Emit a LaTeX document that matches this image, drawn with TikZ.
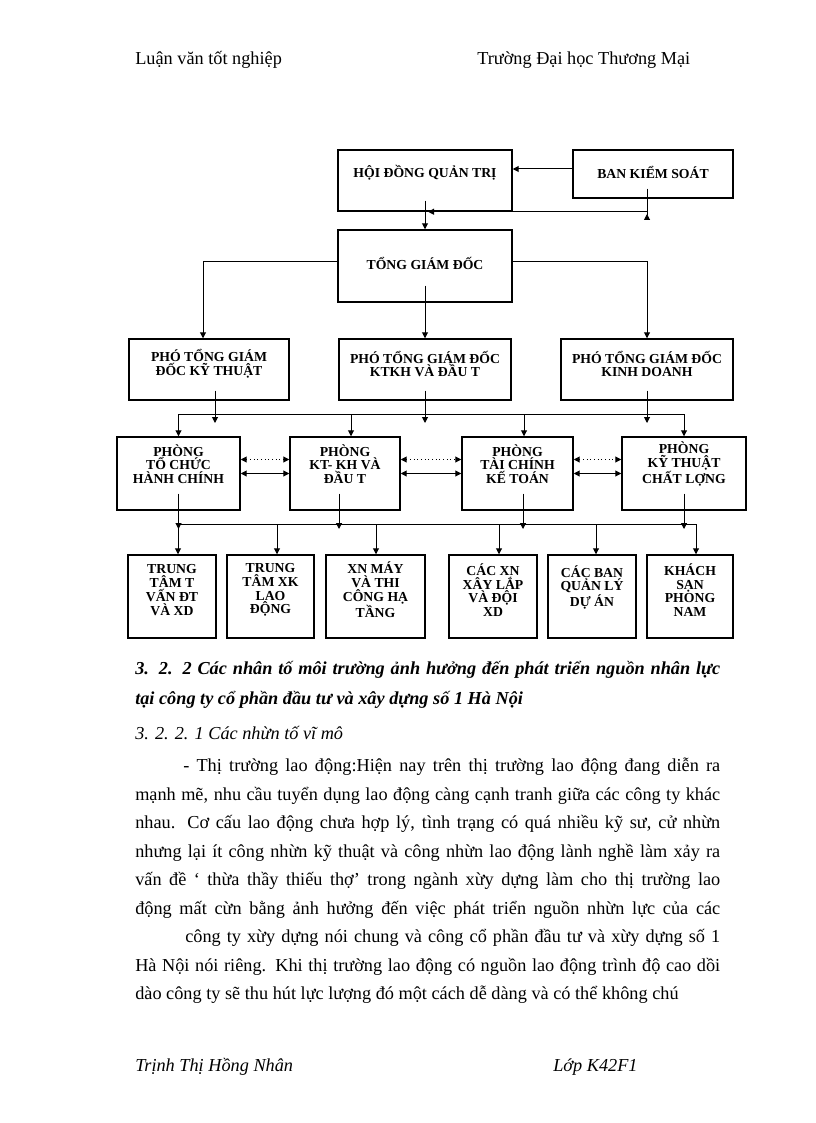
\documentclass[tikz,border=0pt]{standalone}
\usepackage{fontspec}
\setmainfont{Liberation Serif}
\usetikzlibrary{arrows.meta,calc}

\tikzset{
  box/.style={draw, line width=1.1pt, inner sep=0pt},
  boxtext/.style={font=\fontsize{10.3}{10.3}\selectfont\bfseries, align=center, inner sep=0pt},
  line/.style={line width=0.75pt},
  arr/.style={line width=0.75pt, -{Triangle[length=4.5pt,width=4.5pt]}},
  dbl/.style={line width=0.75pt, {Triangle[length=4.5pt,width=4.5pt]}-{Triangle[length=4.5pt,width=4.5pt]}},
  page/.style={font=\fontsize{13.7}{16}\selectfont, inner sep=0pt, anchor=west},
}

\begin{document}
\begin{tikzpicture}[x=0.75pt, y=-0.75pt]
\useasboundingbox (0,0) rectangle (816,1123);

% header
\node[page] (hleft) at (135,60) {Luận văn tốt nghiệp};
\node[page] (hright) at (477,60) {Trường Đại học Thương Mại};

% top level
\node[box, minimum width=130.5pt, minimum height=45.75pt] (hdqt) at (425,180.5) {};
\node[boxtext] (hdqt-t) at (425,173) {HỘI ĐỒNG QUẢN TRỊ};
\node[box, minimum width=120pt, minimum height=36pt] (bks) at (653,174) {};
\node[boxtext] (bks-t) at (653,172) {BAN KIỂM SOÁT};
\node[box, minimum width=130.5pt, minimum height=54pt] (tgd) at (425,266) {};
\node[boxtext] (tgd-t) at (425,263) {TỔNG GIÁM ĐỐC};

% pho tong giam doc
\node[box, minimum width=120pt, minimum height=45.75pt] (ptkt) at (209,369.5) {};
\node[boxtext] (ptkt-t) at (209,364) {PHÓ TỔNG GIÁM\\ĐỐC KỸ THUẬT};
\node[box, minimum width=129pt, minimum height=45.75pt] (ptkh) at (425,369.5) {};
\node[boxtext] (ptkh-t) at (425,364) {PHÓ TỔNG GIÁM ĐỐC\\KTKH VÀ ĐẦU T};
\node[box, minimum width=129pt, minimum height=45.75pt] (ptkd) at (647,369.5) {};
\node[boxtext] (ptkd-t) at (647,364) {PHÓ TỔNG GIÁM ĐỐC\\KINH DOANH};

% phong ban
\node[box, minimum width=92.25pt, minimum height=54.75pt] (tchc) at (178.5,473.5) {};
\node[boxtext] (tchc-t) at (178.5,464) {PHÒNG\\TỔ CHỨC\\HÀNH CHÍNH};
\node[box, minimum width=82.5pt, minimum height=54.75pt] (ktkh) at (345,473.5) {};
\node[boxtext] (ktkh-t) at (345,464) {PHÒNG\\KT- KH VÀ\\ĐẦU T};
\node[box, minimum width=83.25pt, minimum height=54.75pt] (tckt) at (517.5,473.5) {};
\node[boxtext] (tckt-t) at (517.5,464) {PHÒNG\\TÀI CHÍNH\\KẾ TOÁN};
\node[box, minimum width=93pt, minimum height=54.75pt] (ktcl) at (684,473.5) {};
\node[boxtext] (ktcl-t) at (684,464) {PHÒNG\\KỸ THUẬT\\CHẤT LỢNG};

% don vi
\node[box, minimum width=66pt, minimum height=62.25pt] (tttv) at (172,596.5) {};
\node[boxtext] (tttv-t) at (172,590) {TRUNG\\TÂM T\\VẤN ĐT\\VÀ XD};
\node[box, minimum width=65.25pt, minimum height=62.25pt] (ttxk) at (270.5,596.5) {};
\node[boxtext] (ttxk-t) at (270.5,590) {TRUNG\\TÂM XK\\LAO\\ĐỘNG};
\node[box, minimum width=74.25pt, minimum height=62.25pt] (xnmay) at (375.5,596.5) {};
\node[boxtext] (xnmay-t) at (375.5,590) {XN MÁY\\VÀ THI\\CÔNG HẠ\\TẦNG};
\node[box, minimum width=66pt, minimum height=62.25pt] (cacxn) at (493,596.5) {};
\node[boxtext] (cacxn-t) at (493,590) {CÁC XN\\XÂY LẮP\\VÀ ĐỘI\\XD};
\node[box, minimum width=66pt, minimum height=62.25pt] (cacban) at (592,596.5) {};
\node[boxtext] (cacban-t) at (592,587) {CÁC BAN\\QUẢN LÝ\\DỰ ÁN};
\node[box, minimum width=64.5pt, minimum height=62.25pt] (ks) at (690,596.5) {};
\node[boxtext] (ks-t) at (690,590) {KHÁCH\\SẠN\\PHONG\\NAM};

% top connectors
\coordinate (bkslow) at (647,220);
\draw[arr] ($(bks.west)+(0,-5)$) -- ($(hdqt.east)+(0,-11.5)$);
\draw[line, -{Triangle[length=4.5pt,width=4.5pt,reversed]}] ($(bks.south)+(-6,-10)$) -- (bkslow);
\draw[arr] (hdqt.south -| bkslow) -- ($(hdqt.south)+(3,0)$);
\draw[arr] ($(hdqt.south)+(0,-11)$) -- (tgd.north);
\draw[arr] ($(tgd.west)+(0,-5)$) -| ($(ptkt.north)+(-6,0)$);
\draw[arr] ($(tgd.east)+(0,-5)$) -| (ptkd.north);
\draw[arr] ($(tgd.south)+(0,-17)$) -- (ptkh.north);

% bus to phong ban
\coordinate (bus1l) at (178.5,414);
\coordinate (bus1r) at (684,414);
\draw[line] (bus1l) -- (bus1r);
\draw[arr] ($(ptkt.south)+(6,-10)$) -- ($(ptkt.south |- bus1l)+(6,9)$);
\draw[arr] ($(ptkh.south)+(0,-10)$) -- ($(ptkh.south |- bus1l)+(0,9)$);
\draw[arr] ($(ptkd.south)+(0,-10)$) -- ($(ptkd.south |- bus1l)+(0,9)$);
\draw[arr] (bus1l) -- (tchc.north);
\draw[arr] ($(ktkh.north |- bus1l)+(6,0)$) -- ($(ktkh.north)+(6,0)$);
\draw[arr] ($(tckt.north |- bus1l)+(6.5,0)$) -- ($(tckt.north)+(6.5,0)$);
\draw[arr] (bus1r) -- (ktcl.north);

% links between phong ban
\draw[dbl, dotted] ($(tchc.east)+(0,-14)$) -- ($(ktkh.west)+(0,-14)$);
\draw[dbl] (tchc.east) -- (ktkh.west);
\draw[dbl, dotted] ($(ktkh.east)+(0,-14)$) -- ($(tckt.west)+(0,-14)$);
\draw[dbl] (ktkh.east) -- (tckt.west);
\draw[dbl, dotted] ($(tckt.east)+(0,-14)$) -- ($(ktcl.west)+(0,-14)$);
\draw[dbl] (tckt.east) -- (ktcl.west);

% bus to don vi
\coordinate (bus2l) at (178,524);
\coordinate (bus2r) at (696,524);
\draw[line] (bus2l) -- (bus2r);
\draw[arr] ($(tchc.south)+(0,-17)$) -- ($(tchc.south |- bus2l)+(0,5)$);
\draw[arr] ($(ktkh.south)+(-6,-17)$) -- ($(ktkh.south |- bus2l)+(-6,5)$);
\draw[arr] ($(tckt.south)+(5.5,-17)$) -- ($(tckt.south |- bus2l)+(5.5,5)$);
\draw[arr] ($(ktcl.south)+(0,-17)$) -- ($(ktcl.south |- bus2l)+(0,5)$);
\draw[arr] (bus2l) -- ($(tttv.north)+(6,0)$);
\draw[arr] ($(ttxk.north |- bus2l)+(6.5,0)$) -- ($(ttxk.north)+(6.5,0)$);
\draw[arr] ($(xnmay.north |- bus2l)+(0.5,0)$) -- ($(xnmay.north)+(0.5,0)$);
\draw[arr] ($(cacxn.north |- bus2l)+(6,0)$) -- ($(cacxn.north)+(6,0)$);
\draw[arr] ($(cacban.north |- bus2l)+(4,0)$) -- ($(cacban.north)+(4,0)$);
\draw[arr] (bus2r) -- ($(ks.north)+(6,0)$);

% text below
\node[page, font=\fontsize{13.7}{16}\selectfont\bfseries\itshape] (head1) at (135,670)
  {\makebox[438.75pt][s]{3. 2. 2 Các nhân tố môi trường ảnh hưởng đến phát triển nguồn nhân lực}};
\node[page, font=\fontsize{13.7}{16}\selectfont\bfseries\itshape] (head2) at (135,700)
  {tại công ty cổ phần đầu tư và xây dựng số 1 Hà Nội};
\node[page, font=\fontsize{13.7}{16}\selectfont\itshape] (sub) at (135,733) {3. 2. 2. 1 Các nhừn tố vĩ mô};

\node[page] (l1) at (183,767) {\makebox[402.75pt][s]{- Thị trường lao động:Hiện nay trên thị trường lao động đang diễn ra}};
\node[page] (l2) at (135,795.5) {\makebox[438.75pt][s]{mạnh mẽ, nhu cầu tuyển dụng lao động càng cạnh tranh giữa các công ty khác}};
\node[page] (l3) at (135,824) {\makebox[438.75pt][s]{nhau. Cơ cấu lao động chưa hợp lý, tình trạng có quá nhiều kỹ sư, cử nhừn}};
\node[page] (l4) at (135,852.5) {\makebox[438.75pt][s]{nhưng lại ít công nhừn kỹ thuật và công nhừn lao động lành nghề làm xảy ra}};
\node[page] (l5) at (135,881) {\makebox[438.75pt][s]{vấn đề ‘ thừa thầy thiếu thợ’ trong ngành xừy dựng làm cho thị trường lao}};
\node[page] (l6) at (135,909.5) {\makebox[438.75pt][s]{động mất cừn bằng ảnh hưởng đến việc phát triển nguồn nhừn lực của các}};
\node[page] (l7) at (185,938) {\makebox[401.25pt][s]{công ty xừy dựng nói chung và công cổ phần đầu tư và xừy dựng số 1}};
\node[page] (l8) at (135,966.5) {\makebox[438.75pt][s]{Hà Nội nói riêng. Khi thị trường lao động có nguồn lao động trình độ cao dồi}};
\node[page] (l9) at (135,995) {dào công ty sẽ thu hút lực lượng đó một cách dễ dàng và có thể không chú};

% footer
\node[page, font=\fontsize{13.7}{16}\selectfont\itshape] (fleft) at (135,1067) {Trịnh Thị Hồng Nhân};
\node[page, font=\fontsize{13.7}{16}\selectfont\itshape] (fright) at (553,1067) {Lớp K42F1};

\end{tikzpicture}
\end{document}
